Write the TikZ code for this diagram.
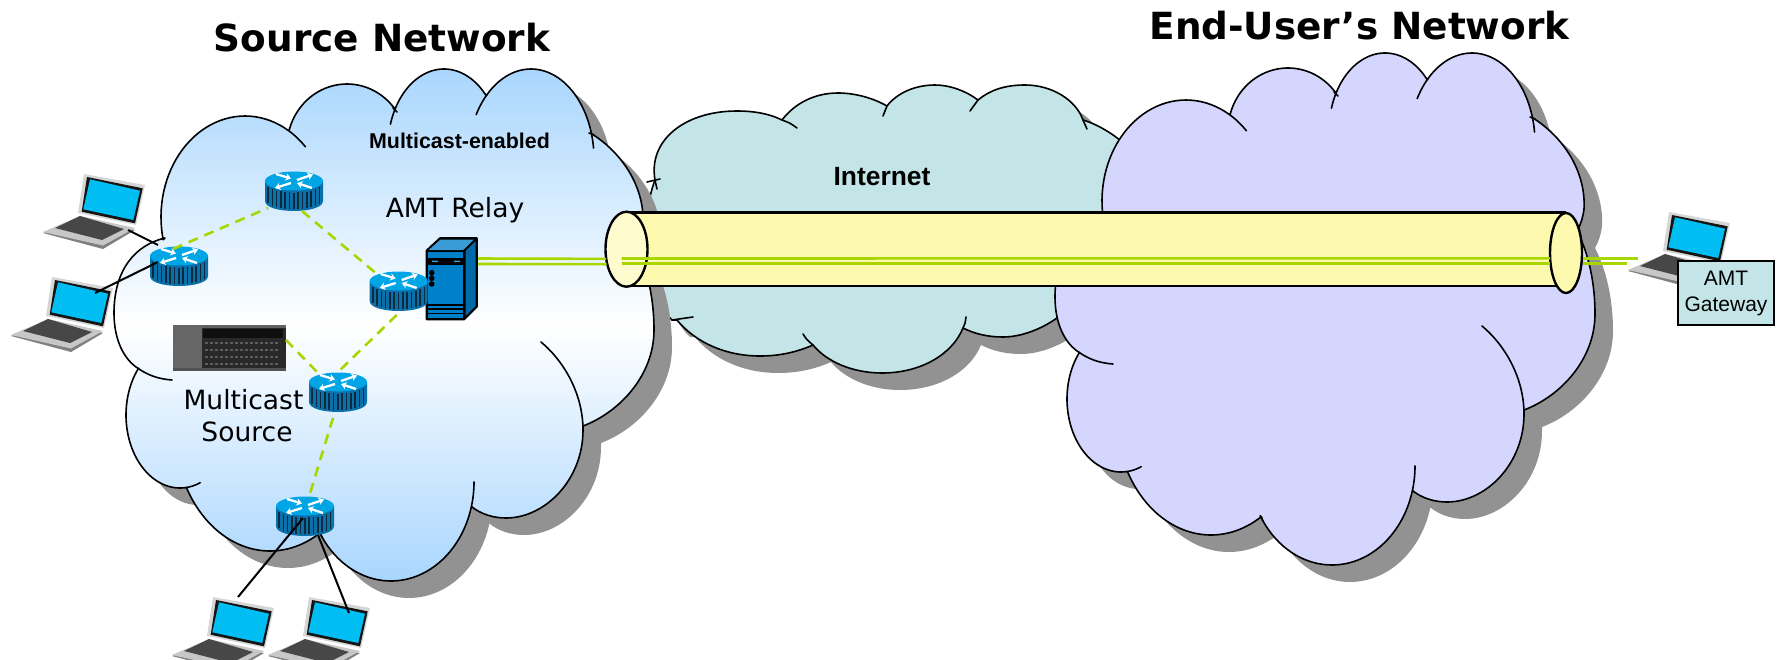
\documentclass[tikz,border=0pt]{standalone}
\usepackage{fontspec}
\usetikzlibrary{arrows.meta,shapes.geometric}
\newfontfamily\dvfont{DejaVu Sans}
\newfontfamily\lsfont{Liberation Sans}
\definecolor{shadowgray}{HTML}{929292}
\definecolor{skyblue}{HTML}{A9D6FE}
\definecolor{tealcloud}{HTML}{C3E5E7}
\definecolor{lilaccloud}{HTML}{D4D6FD}
\definecolor{tubeyellow}{HTML}{FDFAAF}
\definecolor{tubeface}{HTML}{FEFCCF}
\definecolor{linkgreen}{HTML}{A8D600}
\definecolor{routerside}{HTML}{0A70AA}
\definecolor{routertop}{HTML}{00A5E6}
\definecolor{routerbar}{HTML}{0B2A3F}
\definecolor{screenblue}{HTML}{00BDF2}
\definecolor{relayfront}{HTML}{0080C8}
\definecolor{relaytop}{HTML}{3A9BD5}
\definecolor{relayside}{HTML}{0069A8}
\tikzset{
  cloudline/.style={draw=black,line width=1.6pt,line join=round},
  hookline/.style={draw=black,line width=1.6pt,line cap=round},
  cloudshadow/.style={fill=shadowgray,shift={(18,17)}},
  tubeline/.style={draw=black,line width=2.6pt},
  hubdash/.style={draw=linkgreen,line width=2.6pt,dash pattern=on 10pt off 7pt},
  hostwire/.style={draw=black,line width=2pt},
  tunnelwire/.style={draw=linkgreen,line width=2.6pt},
  footprint/.style={inner sep=0pt,outer sep=0pt},
  ellipseface/.style={ellipse,draw=black,line width=2.4pt,inner sep=0pt,outer sep=0pt},
  titletext/.style={inner sep=0pt,anchor=base,font=\dvfont\bfseries\fontsize{37.4}{37.4}\selectfont},
  dvtext/.style={inner sep=0pt,anchor=base,align=center,font=\dvfont\fontsize{26.5}{31.5}\selectfont},
  boldtext/.style={inner sep=0pt,anchor=base,font=\lsfont\bfseries},
}
% elliptical lobe: centre, radii, angles (clockwise on the page)
\def\earc#1#2#3#4#5#6{plot[domain=#5:#6,samples=40] ({#1+#3*cos(\x)},{#2+#4*sin(\x)})}
% Large cloud outline (used for the source network and, shifted, the end-user network)
\def\BigCloud{
  plot[domain=167:301,samples=40] ({245+84*cos(\x)},{217+101*sin(\x)})
  -- plot[domain=195.6:323,samples=40] ({347+60*cos(\x)},{147+63*sin(\x)})
  -- plot[domain=209:319,samples=40] ({444+56*cos(\x)},{147+78*sin(\x)})
  -- plot[domain=225.5:344,samples=40] ({531+63*cos(\x)},{159+90*sin(\x)})
  -- (592,134) .. controls (625,155) and (645,190) .. (643,225) .. controls (642,233) and (640,240) .. (636,247)
  .. controls (648,270) and (654,300) .. (654,330) .. controls (654,375) and (620,412) .. (583,426)
  -- (583,430) .. controls (583,480) and (545,518) .. (506,518) .. controls (493,518) and (481,514) .. (472,507)
  -- plot[domain=14:146.5,samples=40] ({391+83*cos(\x)},{482+99*sin(\x)})
  -- plot[domain=58:151.5,samples=40] ({270+95*cos(\x)},{430+121*sin(\x)})
  -- plot[domain=84:219.8,samples=40] ({180+54*cos(\x)},{415+73*sin(\x)})
  -- (139,369) .. controls (124,360) and (114,340) .. (114,313) .. controls (114,270) and (135,245) .. (165,238)
}
\newcommand{\BigCloudHooks}{%
  \draw[hookline] \earc{245}{217}{84}{101}{301}{316};
  \draw[hookline] \earc{444}{147}{56}{78}{197}{209};
  \draw[hookline] \earc{531}{159}{63}{90}{209.6}{225.5};
  \draw[hookline] \earc{531}{159}{63}{90}{344}{353};
  \draw[hookline] (541,342) .. controls (565,362) and (583,395) .. (583,430);
  \draw[hookline] \earc{391}{482}{83}{99}{0}{14};
  \draw[hookline] \earc{391}{482}{83}{99}{146.5}{150};
  \draw[hookline] \earc{180}{415}{54}{73}{68}{84};
  \draw[hookline] (172,380) .. controls (158,379) and (148,375) .. (139,369);
  \draw[hookline] (589,133) -- (594,135);
  \draw[hookline] (393,108) -- (397,112);
}
\def\InternetCloud{
  (655,180) .. controls (648,140) and (685,111) .. (737,111) .. controls (755,111) and (770,114) .. (782,120)
  .. controls (795,103) and (815,93) .. (838,93) .. controls (855,93) and (873,98) .. (887,106)
  .. controls (897,93) and (915,85) .. (935,85) .. controls (950,85) and (966,91) .. (978,100)
  .. controls (990,90) and (1005,85) .. (1025,85) .. controls (1052,85) and (1076,100) .. (1083,120)
  .. controls (1100,125) and (1120,138) .. (1130,150) .. controls (1170,190) and (1130,300) .. (1057,318)
  .. controls (1040,330) and (1020,337) .. (1003,337) .. controls (988,337) and (975,334) .. (963,328)
  .. controls (952,355) and (920,373) .. (882,373) .. controls (853,373) and (827,362) .. (813,345)
  .. controls (797,352) and (780,356) .. (760,356) .. controls (725,356) and (695,342) .. (677,320)
  -- (672,320) .. controls (640,290) and (640,220) .. (655,180)
}
% Router: centre x, top y
\newcommand{\RouterIcon}[3]{%
  \node[footprint,minimum width=58pt,minimum height=40pt] (#1) at (#2,#3+20) {};
  \begin{scope}[shift={(#2,#3)}]
    \fill[routerside] (-29,10) -- (-29,30) .. controls (-29,43.3) and (29,43.3) .. (29,30) -- (29,10) -- cycle;
    \foreach \sx in {-26,-21.7,...,26.5}{
      \pgfmathsetmacro{\arcy}{sqrt(1-(\sx/29)^2)}
      \draw[routerbar,line width=1.6pt] (\sx,{10+9.5*\arcy+2}) -- (\sx,{30+10*\arcy-2});
    }
    \fill[routertop] (0,10) ellipse[x radius=29,y radius=9.5];
    \begin{scope}[white,line width=2.3pt,arrows={-{Stealth[length=5.5pt,width=7.5pt]}}]
      \draw (3,9) -- (19,3.5);
      \draw (-18,3) -- (-3,7.5);
      \draw (-3,12) -- (-19,17);
      \draw (18,17) -- (3,12);
    \end{scope}
  \end{scope}
}
% Laptop: lid top-left corner
\newcommand{\LaptopIcon}[3]{%
  \begin{scope}[shift={(#2,#3)}]
    \node[footprint,minimum width=101pt,minimum height=74pt] (#1) at (6.5,34) {};
    \fill[black!50] (-44,56) -- (-7,41) -- (48,53) -- (16,72) -- cycle;
    \fill[black!22] (-44,55) -- (-7,39) -- (48,51) -- (16,68.5) -- cycle;
    \fill[black!72] (-32,51) -- (-7,39) -- (37,52) -- (15,63) -- cycle;
    \fill[black!16] (-3,-3) -- (58,8) -- (49,48) -- (-9,36) -- cycle;
    \fill[black!92] (0,0) -- (55.7,11.3) -- (48,46.3) -- (-5.3,34.7) -- cycle;
    \fill[screenblue] (3,2.3) -- (53,13.7) -- (46.3,43) -- (-3.7,32.3) -- cycle;
  \end{scope}
}
\begin{document}
\begin{tikzpicture}[x=1pt,y=-1pt]
\useasboundingbox (0,0) rectangle (1781,659);
% ---- Internet cloud
\fill[cloudshadow] \InternetCloud -- cycle;
\path[cloudline,fill=tealcloud] \InternetCloud -- cycle;
% ---- Source cloud
\fill[cloudshadow] \BigCloud -- cycle;
\path[cloudline,top color=skyblue,bottom color=skyblue,middle color=white] \BigCloud -- cycle;
\BigCloudHooks
% Internet ticks that stay visible
\draw[hookline] (782,120) .. controls (790,123) .. (797,128);
\draw[hookline] (887,106) -- (883,116);
\draw[hookline] (978,100) -- (970,111);
\draw[hookline] (1083,120) -- (1087,129);
\draw[hookline] (647,182) -- (660,179) (655,180) -- (657,189);
\draw[hookline] (672,320) -- (693,317);
\draw[hookline] (963,328) .. controls (965,324) .. (966,317);
\draw[hookline] (813,345) .. controls (807,340) .. (803,334);
% ---- End-user cloud
\begin{scope}[shift={(941,-16)}]
  \fill[cloudshadow] \BigCloud -- cycle;
  \path[cloudline,fill=lilaccloud] \BigCloud -- cycle;
  \BigCloudHooks
\end{scope}
% ---- Tunnel
\coordinate (tubeTL) at (626.5,212.5);
\coordinate (tubeTR) at (1566,212.5);
\coordinate (tubeBR) at (1562,286);
\coordinate (tubeBL) at (626.5,286);
\fill[tubeyellow] (tubeTL) -- (tubeTR) -- (tubeBR) -- (tubeBL) -- cycle;
\draw[tubeline] (tubeTL) -- (tubeTR) (tubeBL) -- (tubeBR);
\node[ellipseface,fill=tubeyellow,minimum width=32pt,minimum height=80pt] (tubeEnd) at (1566,253) {};
\node[ellipseface,fill=tubeface,minimum width=42pt,minimum height=75pt] (tubeMouth) at (626.5,249.2) {};
% ---- Laptops
\LaptopIcon{lapA}{87}{177}
\LaptopIcon{lapB}{55}{280}
\LaptopIcon{lapC}{216}{600}
\LaptopIcon{lapD}{312}{600}
\LaptopIcon{lapE}{1672}{215}
% ---- Relay server
\node[footprint,minimum width=50pt,minimum height=81pt] (relayHost) at (451.7,278.8) {};
\begin{scope}[line join=round]
  \fill[draw=black,line width=2.2pt,fill=black] (426.7,250.7) -- (440,238.3) -- (476.7,238.3) -- (476.7,306.7) -- (464,319.3) -- (426.7,319.3) -- cycle;
  \fill[relaytop] (428.5,250.2) -- (440.5,239.5) -- (474,239.5) -- (463,250.2) -- cycle;
  \fill[relayside] (465.5,251) -- (475.5,241) -- (475.5,306) -- (465.5,316) -- cycle;
  \fill[relayfront] (428,252) -- (463,252) -- (463,318) -- (428,318) -- cycle;
  \fill[black] (428,258) rectangle (463,265);
  \fill[relaytop] (432,260.5) rectangle (438,262) (454,260.5) rectangle (460,262);
  \fill[black] (431.7,272.7) circle[radius=2.8] (431.7,278.3) circle[radius=2.8] (431.7,284) circle[radius=2.8];
  \foreach \sy in {305,309,313.5}{\draw[black,line width=1.2pt] (428,\sy) -- (463,\sy);}
\end{scope}
% ---- Multicast source hardware
\node[footprint,minimum width=113pt,minimum height=46pt] (sourceBox) at (229.5,348) {};
\fill[black!84] (173,325) rectangle (286,371);
\fill[black!62] (173,325) rectangle (286,328);
\fill[black!60] (173,325) rectangle (202,371);
\fill[black!94] (203,329) rectangle (283,338);
\foreach \ry in {343,350,357,364}{\draw[black!64,line width=1.6pt,dash pattern=on 3pt off 2pt] (205,\ry) -- (280,\ry);}
\fill[black!68] (173,368) rectangle (286,371);
% ---- Routers
\RouterIcon{hubA}{179}{246}
\RouterIcon{hubB}{294}{171}
\RouterIcon{hubC}{398.7}{271}
\RouterIcon{hubD}{338}{372}
\RouterIcon{hubE}{305}{496}
% ---- Connectors
\draw[hubdash] ([xshift=-6pt,yshift=-3pt]hubA.north) -- ([xshift=3pt,yshift=3pt]hubB.south west);
\draw[hubdash] ([xshift=8pt]hubB.south) -- ([xshift=6pt,yshift=-2pt]hubC.north west);
\draw[hubdash] ([xshift=-2pt,yshift=-4pt]hubC.south) -- (hubD.north);
\draw[hubdash] ([yshift=8pt]sourceBox.east) -- ([xshift=-20pt,yshift=-1pt]hubD.north);
\draw[hubdash] ([xshift=-5pt,yshift=-6pt]hubD.south) -- ([xshift=3.6pt,yshift=-2pt]hubE.north);
\draw[hostwire] ([xshift=34.5pt,yshift=-19pt]lapA.center) -- ([xshift=8pt,yshift=21pt]hubA.west);
\draw[hostwire] ([xshift=33.5pt,yshift=21pt]lapB.center) -- ([xshift=8pt,yshift=4pt]hubA.west);
\draw[hostwire] ([xshift=-2pt,yshift=-2pt]hubE.center) -- ([xshift=15.5pt,yshift=37pt]lapC.center);
\draw[hostwire] ([xshift=13pt,yshift=-19pt]hubE.center) -- ([xshift=30.5pt,yshift=21pt]lapD.center);
\draw[tunnelwire] ([xshift=1.3pt,yshift=20.3pt]relayHost.east) -- ([xshift=-20.5pt,yshift=-9.7pt]tubeMouth.center);
\draw[tunnelwire] ([xshift=1.3pt,yshift=14.8pt]relayHost.east) -- ([xshift=-20pt,yshift=-15pt]tubeMouth.center);
\draw[tunnelwire] ([xshift=-4.8pt,yshift=-9.3pt]tubeMouth.center) -- ([xshift=-16pt,yshift=-5.3pt]tubeEnd.center);
\draw[tunnelwire] ([xshift=-4.8pt,yshift=-14.3pt]tubeMouth.center) -- ([xshift=-16pt,yshift=-10.5pt]tubeEnd.center);
\draw[tunnelwire] ([xshift=17pt,yshift=-5.3pt]tubeEnd.center) -- ([xshift=-40.5pt,yshift=-9.3pt]lapE.center);
\draw[tunnelwire] ([xshift=17pt,yshift=-10.3pt]tubeEnd.center) -- ([xshift=-51.5pt,yshift=-14.3pt]lapE.center);
% ---- Gateway box
\node[draw=black,line width=2.6pt,fill=tealcloud,minimum width=96pt,minimum height=64pt,inner sep=0pt,align=center,font=\lsfont\fontsize{21}{26}\selectfont] (gatewayBox) at (1726,293) {AMT\\Gateway};
% ---- Labels
\node[titletext] (titleSource) at (382,51) {Source Network};
\node[titletext] (titleUser) at (1359.5,39) {End-User’s Network};
\node[boldtext,font=\lsfont\bfseries\fontsize{21.4}{21.4}\selectfont] (labelEnabled) at (459.5,148) {Multicast-enabled};
\node[boldtext,font=\lsfont\bfseries\fontsize{26.4}{26.4}\selectfont] (labelInternet) at (882,185) {Internet};
\node[dvtext] (labelRelay) at (455,217) {AMT Relay};
\node[dvtext] (labelMulticast) at (243.5,409) {Multicast};
\node[dvtext] (labelSource) at (247,441) {Source};
\end{tikzpicture}
\end{document}
